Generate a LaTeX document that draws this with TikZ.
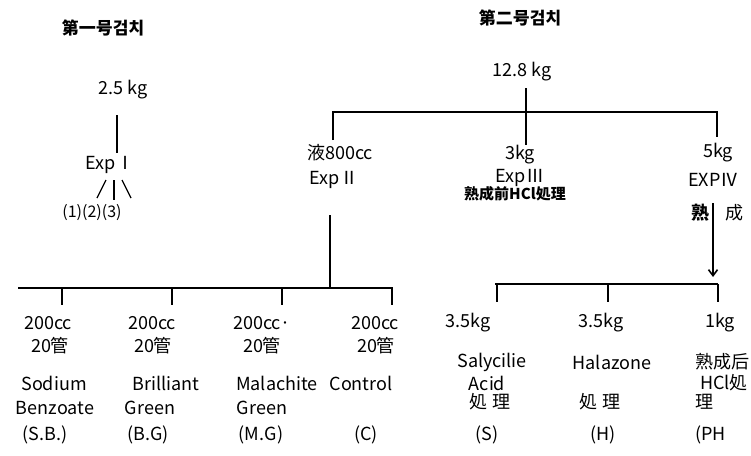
\documentclass[tikz,border=0pt]{standalone}
\usepackage{fontspec}
\setmainfont{Noto Sans CJK KR}
\usetikzlibrary{arrows.meta}
\begin{document}
\begin{tikzpicture}[x=1pt,y=-1pt,
  lbl/.style={inner sep=0pt, font=\fontsize{18}{20}\selectfont},
  sml/.style={inner sep=0pt, font=\fontsize{16}{18}\selectfont},
  bsm/.style={inner sep=0pt, font=\fontsize{15}{17}\selectfont\bfseries},
  ttl/.style={inner sep=0pt, font=\fontsize{17}{19}\selectfont\bfseries},
  link/.style={draw, line width=1.6pt},
  thin/.style={draw, line width=1.3pt}]
\useasboundingbox (0,0) rectangle (751,455);
\clip (0,0) rectangle (751,455);

% ---------- first sample ----------
\node[ttl] (t1) at (103,28) {第一号검치};
\node[lbl] (w1) at (123,90) {2.5 kg};
\coordinate (v1a) at (117,115);
\coordinate (v1b) at (117,153);
\draw[link] (v1a) -- (v1b);
\node[lbl] (e1) at (110,165) {ExpⅠ};
\coordinate (s1a) at (106,180); \coordinate (s1b) at (97,198);
\coordinate (s2a) at (114,180); \coordinate (s2b) at (114,200);
\coordinate (s3a) at (122,180); \coordinate (s3b) at (131,198);
\draw[thin] (s1a) -- (s1b);
\draw[thin] (s2a) -- (s2b);
\draw[thin] (s3a) -- (s3b);
\node[sml] (sub) at (92,213) {(1)(2)(3)};

% ---------- second sample ----------
\node[ttl] (t2) at (520,18) {第二号검치};
\node[lbl] (w2) at (522,72) {12.8 kg};
\coordinate (top) at (526,88);
\coordinate (hl) at (333,112);
\coordinate (hm) at (526,112);
\coordinate (hr) at (717,112);
\coordinate (dl) at (333,140);
\coordinate (dm) at (526,145);
\coordinate (dr) at (717,137);
\draw[link] (top) -- (dm);
\draw[link] (dl) -- (hl) -- (hr) -- (dr);

% Exp II
\node[lbl] (a2) at (340,153) {液800cc};
\node[lbl] (e2) at (334,180) {ExpⅡ};
\coordinate (b2top) at (330,215);
\coordinate (b2) at (330,288);
\draw[link] (b2top) -- (b2);
\coordinate (L1) at (18,288);
\coordinate (L4) at (393,288);
\draw[link] (L1) -- (L4);
\foreach \x/\n in {62/1,172/2,282/3,392/4}{
  \coordinate (k\n a) at (\x,288);
  \coordinate (k\n b) at (\x,305);
  \draw[link] (k\n a) -- (k\n b);
}
% columns
\node[lbl] (c1a) at (48,323) {200cc};
\node[lbl] (c1b) at (50,346) {20管};
\node[lbl] (c1c) at (54,383) {Sodium};
\node[lbl] (c1d) at (55,408) {Benzoate};
\node[lbl] (c1e) at (45,435) {(S.B.)};

\node[lbl] (c2a) at (152,323) {200cc};
\node[lbl] (c2b) at (153,346) {20管};
\node[lbl] (c2c) at (166,383) {Brilliant};
\node[lbl] (c2d) at (150,408) {Green};
\node[lbl] (c2e) at (148,435) {(B.G)};

\node[lbl] (c3a) at (262,323) {200cc·};
\node[lbl] (c3b) at (262,346) {20管};
\node[lbl] (c3c) at (277,383) {Malachite};
\node[lbl] (c3d) at (262,408) {Green};
\node[lbl] (c3e) at (261,435) {(M.G)};

\node[lbl] (c4a) at (375,323) {200cc};
\node[lbl] (c4b) at (376,346) {20管};
\node[lbl] (c4c) at (361,383) {Control};
\node[lbl] (c4e) at (366,435) {(C)};

% Exp III
\node[lbl] (a3) at (520,155) {3kg};
\node[lbl] (e3) at (520,178) {ExpⅢ};
\node[bsm] (p3) at (515,194) {熟成前HCl処理};

% Exp IV
\node[lbl] (a4) at (718,153) {5kg};
\node[lbl, anchor=west] (e4) at (688,180) {EXPⅣ};
\coordinate (ar1) at (713,203);
\coordinate (ar2) at (713,277);
\draw[link, -{Straight Barb[length=6pt,width=9pt]}] (ar1) -- (ar2);
\node[lbl, font=\fontsize{18}{20}\selectfont\bfseries] (m1) at (700,213) {熟};
\node[lbl, anchor=west] (m2) at (725,213) {成};

\coordinate (R1) at (495,284);
\coordinate (R3) at (718,284);
\draw[link] (R1) -- (R3);
\foreach \x/\n in {497/5,608/6,718/7}{
  \coordinate (k\n a) at (\x,284);
  \coordinate (k\n b) at (\x,302);
  \draw[link] (k\n a) -- (k\n b);
}
\node[lbl] (c5a) at (468,323) {3.5kg};
\node[lbl] (c5b) at (492,362) {Salycilie};
\node[lbl] (c5c) at (487,383) {Acid};
\node[lbl] (c5d) at (490,402) {処 理};
\node[lbl] (c5e) at (487,435) {(S)};

\node[lbl] (c6a) at (601,323) {3.5kg};
\node[lbl] (c6b) at (612,362) {Halazone};
\node[lbl] (c6d) at (600,402) {処 理};
\node[lbl] (c6e) at (603,435) {(H)};

\node[lbl] (c7a) at (720,323) {1kg};
\node[lbl, anchor=west] (c7b) at (695,362) {熟成后};
\node[lbl, anchor=west] (c7c) at (700,383) {HCl処};
\node[lbl, anchor=west] (c7d) at (695,402) {理};
\node[lbl, anchor=west] (c7e) at (695,435) {(PH};
\end{tikzpicture}
\end{document}
